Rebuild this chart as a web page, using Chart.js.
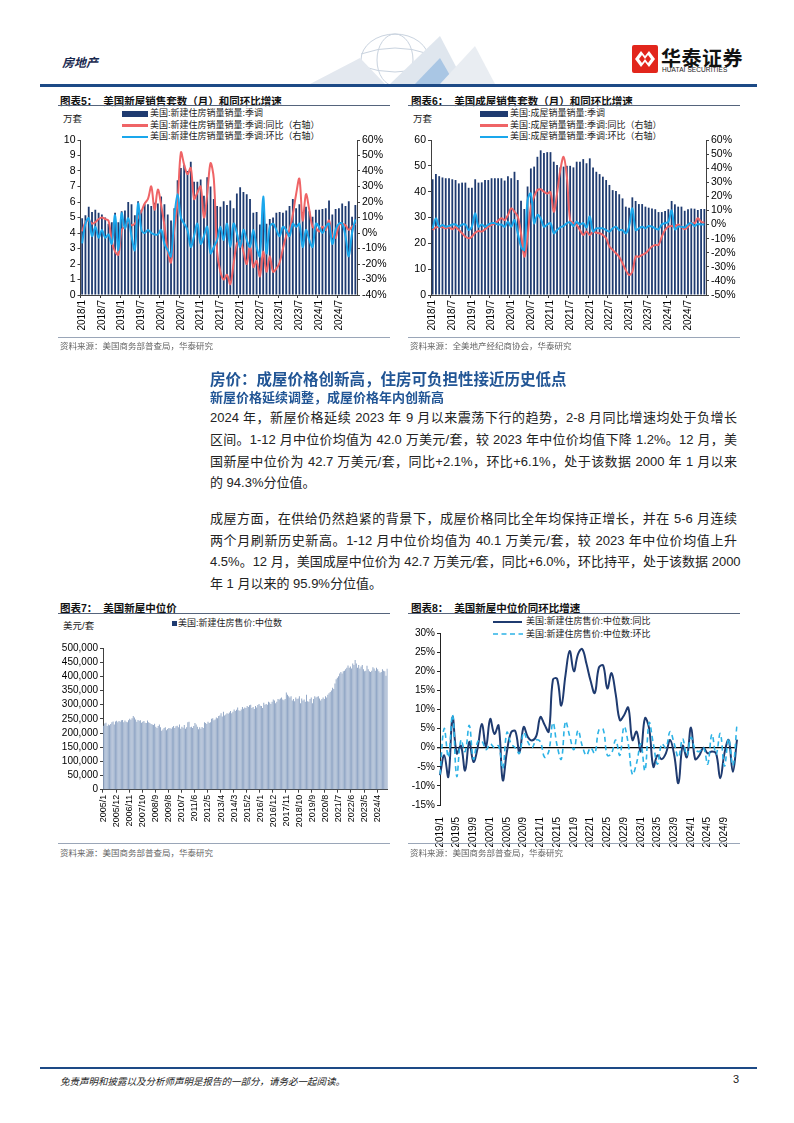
<!DOCTYPE html>
<html><head><meta charset="utf-8">
<script src="https://cdn.jsdelivr.net/npm/chart.js@4"></script>
<style>
body{margin:0;background:#fff;}
#page{position:relative;width:794px;height:1123px;overflow:hidden;font-family:"Liberation Sans","Noto Sans CJK SC",sans-serif;color:#222;}
.abs{position:absolute;}
.title{font-size:10.5px;font-weight:bold;color:#111;white-space:nowrap;}
.rule{height:1px;background:#55647c;}
.src{font-size:8.5px;color:#666;white-space:nowrap;}
.unit{font-size:9.5px;color:#222;white-space:nowrap;}
.leg{font-size:9px;color:#222;white-space:nowrap;line-height:11px;}
.sw{position:absolute;}
.line{position:absolute;left:210px;width:527px;font-size:13px;line-height:21.7px;height:21.7px;white-space:nowrap;}
.j{text-align:justify;text-align-last:justify;}
.box{position:absolute;}
</style></head>
<body><div id="page">

<!-- header -->
<svg class="abs" style="left:290px;top:28px" width="210" height="56">
  <g fill="none" stroke="#c9d3df" stroke-width="1">
    <ellipse cx="105" cy="32" rx="34" ry="26"/>
    <ellipse cx="105" cy="32" rx="18" ry="26"/>
    <path d="M71 26 Q105 14 139 26 M71 38 Q105 50 139 38"/>
  </g>
  <polygon points="20,56 70,30 95,56" fill="#e3e8ef"/>
  <polygon points="100,56 150,8 175,56" fill="#dfe6ee"/>
  <polygon points="125,56 150,30 165,56" fill="#a9c6e4"/>
  <polygon points="150,56 185,18 205,56" fill="#e9edf2"/>
</svg>
<div class="abs" style="left:62px;top:53px;font-size:12px;font-weight:bold;font-style:italic;color:#1a2a50;">房地产</div>
<svg class="abs" style="left:632px;top:45px" width="26" height="28" viewBox="0 0 26 28">
  <rect x="0" y="0" width="26" height="28" rx="2" fill="#e2261c"/>
  <path d="M3 14 L9 6 L13 11 L17 6 L23 14 L17 22 L13 17 L9 22 Z" fill="#fff"/>
  <path d="M7 14 L10 10 L13 14 L16 10 L19 14 L16 18 L13 14 L10 18 Z" fill="#e2261c"/>
</svg>
<div class="abs" style="left:661px;top:43px;font-size:20px;font-weight:bold;color:#111;letter-spacing:0.5px;white-space:nowrap;">华泰证券</div>
<div class="abs" style="left:662px;top:66px;font-size:6.5px;color:#222;white-space:nowrap;letter-spacing:0.1px;">HUATAI SECURITIES</div>
<div class="abs" style="left:40px;top:84px;width:717px;height:2.5px;background:#1d4a86;"></div>

<!-- chart 5 -->
<div class="abs title" style="left:60px;top:93px;">图表5：&nbsp;&nbsp;美国新屋销售套数（月）和同环比增速</div>
<div class="abs rule" style="left:58px;top:105px;width:332px;"></div>
<div class="abs unit" style="left:63px;top:111px;">万套</div>
<div class="abs sw" style="left:122px;top:111px;width:26px;height:6px;background:#1f3b70;"></div>
<div class="abs leg" style="left:150px;top:108px;">美国:新建住房销量销量:季调</div>
<div class="abs sw" style="left:122px;top:124px;width:26px;height:2.5px;background:#ef6466;"></div>
<div class="abs leg" style="left:150px;top:119.5px;">美国:新建住房销量销量:季调:同比（右轴）</div>
<div class="abs sw" style="left:122px;top:135.5px;width:26px;height:2.5px;background:#1aa7ec;"></div>
<div class="abs leg" style="left:150px;top:131px;">美国:新建住房销量销量:季调:环比（右轴）</div>
<div class="box" style="left:40px;top:108px;width:360px;height:232px;"><canvas id="c5"></canvas></div>
<div class="abs rule" style="left:58px;top:337px;width:332px;background:#9aa6b8;"></div>
<div class="abs src" style="left:60px;top:339px;">资料来源：美国商务部普查局，华泰研究</div>

<!-- chart 6 -->
<div class="abs title" style="left:411px;top:93px;">图表6：&nbsp;&nbsp;美国成屋销售套数（月）和同环比增速</div>
<div class="abs rule" style="left:408px;top:105px;width:332px;"></div>
<div class="abs unit" style="left:413px;top:111px;">万套</div>
<div class="abs sw" style="left:480px;top:111px;width:28px;height:6px;background:#1f3b70;"></div>
<div class="abs leg" style="left:510px;top:108px;">美国:成屋销量销量:季调</div>
<div class="abs sw" style="left:480px;top:124px;width:28px;height:2.5px;background:#ef6466;"></div>
<div class="abs leg" style="left:510px;top:119.5px;">美国:成屋销量销量:季调:同比（右轴）</div>
<div class="abs sw" style="left:480px;top:135.5px;width:28px;height:2.5px;background:#1aa7ec;"></div>
<div class="abs leg" style="left:510px;top:131px;">美国:成屋销量销量:季调:环比（右轴）</div>
<div class="box" style="left:400px;top:108px;width:360px;height:232px;"><canvas id="c6"></canvas></div>
<div class="abs rule" style="left:408px;top:337px;width:332px;background:#9aa6b8;"></div>
<div class="abs src" style="left:410px;top:339px;">资料来源：全美地产经纪商协会，华泰研究</div>

<!-- text -->
<div class="abs" style="left:210px;top:367px;font-size:15.5px;font-weight:bold;color:#215595;white-space:nowrap;">房价：成屋价格创新高，住房可负担性接近历史低点</div>
<div class="abs" style="left:210px;top:387px;font-size:13px;font-weight:bold;color:#215595;white-space:nowrap;">新屋价格延续调整，成屋价格年内创新高</div>
<div class="line j" style="top:407px;">2024 年，新屋价格延续 2023 年 9 月以来震荡下行的趋势，2-8 月同比增速均处于负增长</div>
<div class="line j" style="top:429px;">区间。1-12 月中位价均值为 42.0 万美元/套，较 2023 年中位价均值下降 1.2%。12 月，美</div>
<div class="line j" style="top:451px;">国新屋中位价为 42.7 万美元/套，同比+2.1%，环比+6.1%，处于该数据 2000 年 1 月以来</div>
<div class="line" style="top:472px;">的 94.3%分位值。</div>
<div class="line j" style="top:508px;">成屋方面，在供给仍然趋紧的背景下，成屋价格同比全年均保持正增长，并在 5-6 月连续</div>
<div class="line j" style="top:530px;">两个月刷新历史新高。1-12 月中位价均值为 40.1 万美元/套，较 2023 年中位价均值上升</div>
<div class="line j" style="top:551px;">4.5%。12 月，美国成屋中位价为 42.7 万美元/套，同比+6.0%，环比持平，处于该数据 2000</div>
<div class="line" style="top:573px;">年 1 月以来的 95.9%分位值。</div>

<!-- chart 7 -->
<div class="abs title" style="left:60px;top:600px;">图表7：&nbsp;&nbsp;美国新屋中位价</div>
<div class="abs rule" style="left:58px;top:613px;width:332px;"></div>
<div class="abs unit" style="left:63px;top:618px;">美元/套</div>
<div class="abs sw" style="left:172px;top:621px;width:5px;height:5px;background:#1f3b70;"></div>
<div class="abs leg" style="left:178px;top:618px;">美国:新建住房售价:中位数</div>
<div class="box" style="left:40px;top:640px;width:360px;height:200px;"><canvas id="c7"></canvas></div>
<div class="abs rule" style="left:58px;top:843px;width:332px;background:#9aa6b8;"></div>
<div class="abs src" style="left:60px;top:846px;">资料来源：美国商务部普查局，华泰研究</div>

<!-- chart 8 -->
<div class="abs title" style="left:411px;top:600px;">图表8：&nbsp;&nbsp;美国新屋中位价同环比增速</div>
<div class="abs rule" style="left:408px;top:613px;width:332px;"></div>
<div class="abs sw" style="left:493px;top:620.5px;width:29px;height:2px;background:#1f3b70;"></div>
<div class="abs leg" style="left:526px;top:616px;">美国:新建住房售价:中位数:同比</div>
<svg class="abs" style="left:493px;top:632px" width="30" height="4"><line x1="0" y1="2" x2="30" y2="2" stroke="#2db3e6" stroke-width="1.6" stroke-dasharray="5,3.5"/></svg>
<div class="abs leg" style="left:526px;top:628.5px;">美国:新建住房售价:中位数:环比</div>
<div class="box" style="left:400px;top:625px;width:360px;height:222px;"><canvas id="c8"></canvas></div>
<div class="abs rule" style="left:408px;top:843px;width:332px;background:#9aa6b8;"></div>
<div class="abs src" style="left:410px;top:846px;">资料来源：美国商务部普查局，华泰研究</div>

<!-- footer -->
<div class="abs" style="left:40px;top:1067px;width:717px;height:2px;background:#1d4a86;"></div>
<div class="abs" style="left:60px;top:1074px;font-size:9.5px;font-style:italic;color:#222;white-space:nowrap;">免责声明和披露以及分析师声明是报告的一部分，请务必一起阅读。</div>
<div class="abs" style="left:733px;top:1073px;font-size:11px;color:#222;">3</div>

</div>
<script>
// ---------- data ----------
const newSalesMonths = monthLabels(2018, 1, 84);
const newSalesUnits = [
4.95,5.15,5.7,5.35,5.5,5.3,5.2,5.0,4.6,4.7,5.3,4.7,
5.4,5.45,6.0,5.85,5.15,6.05,5.5,5.85,5.85,5.75,5.95,5.9,
6.35,5.85,5.2,4.8,5.6,7.4,8.2,8.4,8.0,8.6,7.3,7.3,
7.45,6.4,7.6,7.0,6.2,5.75,5.7,6.05,5.8,6.1,5.6,6.55,
6.95,6.65,6.5,6.2,5.3,5.35,4.55,5.6,4.6,4.9,5.0,5.3,
5.35,5.3,5.45,5.75,6.2,5.6,5.85,5.35,5.7,5.4,5.05,5.5,
5.5,5.55,5.6,6.1,5.2,5.55,5.6,5.9,5.75,6.05,5.05,5.8];
const newSalesYoY = [
1,7,8,6,7,9,10,9,8,-5,-12,-14,
2,4,7,5,6,10,14,19,22,30,15,28,
18,5,-12,-19,2,20,52,44,38,42,22,26,
30,10,25,45,35,-12,-25,-30,-27,-33,-20,-7,
-5,-12,-20,-8,-22,-18,-28,-12,-25,-15,-25,-23,
-19,-10,-2,2,12,25,35,8,25,15,4,3,
1,4,2,8,-2,-3,5,6,5,2,4,6];
const newSalesMoM = [
-6.7,6,9.5,-2,4,-3,2,-3,-1,-7,11.5,-11,
12.7,3,9.5,-2,-11,19,2,0,2,0,-1,-1,
2,-7,-11,-15,10,25,10,6,2,-9,-2,6,
-7,-2,4,-13,-9,-4.5,4,-4.5,6,-9,6,0,
-9,2,-4.5,-9,2,-9,-15,23.5,-13,4,6,2,
-2,4,2,-2,6,4,6,-9,2,-4.5,-9,6,
4,0,4,6,-7,2,6,6,-2,-15,0,8.7];

const existSalesMonths = monthLabels(2018, 1, 84);
const existSalesUnits = [
44.8,46.8,46,45.5,45.2,45.2,44.8,44.5,43.2,43.5,43.5,41.5,
41.5,44.8,43.5,43.6,44.5,44.5,45.2,45.2,45.2,45.2,44.3,46,
45.2,47.7,44.5,36.5,33.3,42,49,49.7,53.5,56,55,55.3,
55.3,51.6,50.3,49.4,49.7,50,50,49.4,51.6,51.6,52.6,51,
52.9,49.4,47.7,46.8,45.8,44.5,42.6,40.6,40.3,39,37.4,34.2,
33.8,37.8,36.4,35.2,35.2,34.2,33.8,33.5,33.2,32.1,32.1,32.5,
33.2,36.4,35.1,34.2,34.2,32.6,33.2,33.5,33.4,32.9,33.3,33.3];
const existSalesYoY = [
-3.9,-2,-1.5,-2,-2.7,-2,-3.4,-2,-3.9,-6.2,-8.6,-9.8,
-8.6,-5.8,-4.6,-5,-3.4,-1.5,-0.3,0.8,2.7,4.4,3.2,6.8,
11.5,9.1,5.6,-6.2,-22.8,-8.6,12.7,19.8,24.5,25,23.3,22,
23,9,22,38.6,48,34,3,1,-0.3,-3.9,-7.4,-5,
-7.4,-5,-5.8,-6.2,-7.4,-9.8,-15.6,-18,-20.4,-22.8,-27.5,-32.3,
-35.8,-33.5,-22.8,-22.8,-21.6,-20.4,-18,-15.6,-14.5,-14.5,-8.6,-3.9,
-1.5,-1,-1.5,0,-1.5,-3.4,-1.5,1,1,4.4,2,1.3];
const existSalesMoM = [
-2.7,4.4,-1.5,-0.3,-1.5,-1,0,0,-1.5,0,0,-3.9,
-1.5,8,-1.5,0,-1.5,0,1,1,0,0,-1.5,2,
-1.5,3.2,-6.2,-15.6,-18,17.4,22,1,6.8,4.4,-1.5,0,
1,-6.2,-3.9,-2,-1,1,1.5,-1,2,0,1,-2,
5.6,-5,-2.7,-2.7,-2.7,-3.9,-5,-2.7,-1.5,-3.9,-3.9,-6.2,
-1.5,11.5,-3.9,-2.7,-1.5,-2.7,-1,-1.5,-2.7,-3.4,0,1,
2,10,-3.4,-1.5,-1.5,-2,0,1,-1,0.4,0,0];

const priceMonths = monthLabels(2005, 1, 240);
const medianPrice = [
226000,234000,236000,225000,230000,227000,232000,238000,241000,230000,241000,243000,
238000,242000,240000,245000,246000,238000,244000,240000,238000,245000,250000,247000,
252000,260000,255000,248000,240000,246000,243000,245000,236000,240000,242000,236000,
235000,244000,238000,235000,232000,230000,228000,233000,222000,218000,225000,230000,
220000,208000,212000,218000,220000,210000,214000,218000,217000,215000,220000,225000,
218000,224000,226000,220000,230000,215000,222000,219000,228000,215000,220000,238000,
240000,220000,222000,218000,225000,235000,230000,222000,213000,220000,215000,221000,
218000,238000,235000,232000,240000,235000,238000,250000,252000,245000,248000,255000,
252000,260000,262000,270000,258000,275000,262000,265000,270000,268000,272000,278000,
270000,275000,283000,278000,282000,290000,280000,278000,283000,292000,286000,290000,
288000,295000,292000,298000,300000,288000,292000,285000,295000,290000,299000,302000,
296000,295000,288000,307000,300000,302000,300000,310000,308000,302000,310000,318000,
315000,305000,310000,320000,318000,322000,325000,318000,316000,320000,343000,335000,
330000,325000,330000,315000,320000,312000,325000,320000,322000,330000,305000,322000,
315000,318000,310000,335000,312000,310000,320000,325000,305000,320000,330000,325000,
328000,330000,322000,315000,320000,325000,320000,330000,325000,335000,340000,345000,
350000,360000,355000,375000,390000,395000,400000,410000,415000,410000,418000,420000,
425000,430000,438000,430000,435000,428000,445000,440000,458000,445000,430000,440000,
428000,435000,440000,425000,418000,420000,437000,425000,418000,415000,420000,432000,
428000,420000,430000,425000,418000,413000,415000,425000,420000,418000,402000,427000];

const growthMonths = monthLabels(2019, 1, 72);
const priceYoY = [
-7.2,-2,-7.6,8,-1.5,0.5,-6,1.5,-3.7,0,6.2,0.3,
7.5,3.6,5.8,-8.5,-1,4,4.3,-1.2,5.4,2.8,1.9,3,
8,6,4.2,17.8,18,11,19,25.3,20,24.5,25.8,22,
17.5,14.3,21,21.5,15.5,19.5,14,7.2,8.5,10.5,2,4.2,
-1,7.7,5,-5,-2,-3,-1.5,2,-2,-9.3,0.5,-2.5,
5.3,-3,-2,0,-1.5,-1,-1.5,-8,-1.5,2,-6.3,2.1];
const priceMoM = [
-7,5,-2.5,8.6,-7.5,2,-1,5.8,-3,1.5,1.7,-0.5,
1,0,0.5,-5.5,4,1,0,-1.5,4,1.5,0,2,
1.5,-2.5,-1,6.5,0.5,-3,6.8,3,-0.5,4.5,0.5,-2,
0,-1.5,4.7,4.8,-2,-1.5,2,-2,5.5,1,-7,-4,
1,-6,6.5,1,-4.3,1,0,4.2,1,-2.5,2.3,-2,
2.7,-0.5,-1,0,-4.3,3.5,-1.7,3.7,-4.8,2.4,-4.7,6.1];

function monthLabels(y, m, n){
  const out=[];
  for(let i=0;i<n;i++){ out.push(y+'/'+m); m++; if(m>12){m=1;y++;} }
  return out;
}

// ---------- charts ----------
Chart.defaults.font.family = '"Liberation Sans", Arial, sans-serif';
Chart.defaults.color = '#000';
Chart.defaults.animation = false;

const AX = '#404040';
const NAVY = '#1f3b70', RED = '#ef6466', CYAN = '#1aa7ec';

function xAxis(labels, every, h, fs){
  return {
    type:'category',
    grid:{display:true, drawOnChartArea:false, drawTicks:true, tickLength:3,
      color:(c)=> (c.index % every === 0) ? AX : 'rgba(0,0,0,0)'},
    border:{display:true, color:AX},
    ticks:{autoSkip:false, maxRotation:90, minRotation:90, padding:2, font:{size:fs}, color:'#000',
      callback:(v,i)=> (i % every === 0) ? labels[i] : ''},
    afterFit:(s)=>{ s.height = h; }
  };
}
function yAxis(pos, min, max, step, w, fmt, fs){
  return {
    position:pos, min:min, max:max,
    grid:{display:true, drawOnChartArea:false, drawTicks:true, tickLength:3, color:AX},
    border:{display:true, color:AX},
    ticks:{stepSize:step, autoSkip:false, padding:2, font:{size:fs}, color:'#000', callback:fmt},
    afterFit:(s)=>{ s.width = w; }
  };
}
const pct = v => v + '%';
const plain = v => String(v);

function comboChart(id, labels, bars, yoy, mom, yl, yr, wl, wr){
  new Chart(document.getElementById(id), {
    type:'bar',
    data:{labels:labels, datasets:[
      {type:'line', data:mom, yAxisID:'yR', borderColor:CYAN, borderWidth:2, pointRadius:0, tension:0.35, order:0},
      {type:'line', data:yoy, yAxisID:'yR', borderColor:RED, borderWidth:2, pointRadius:0, tension:0.35, order:1},
      {type:'bar', data:bars, yAxisID:'y', backgroundColor:NAVY, barPercentage:0.55, categoryPercentage:1, order:2}
    ]},
    options:{
      responsive:true, maintainAspectRatio:false,
      layout:{padding:{top:32, left:0, right:0, bottom:0}},
      plugins:{legend:{display:false}, tooltip:{enabled:false}},
      scales:{
        x: xAxis(labels, 6, 45, 10),
        y: yAxis('left', yl[0], yl[1], yl[2], wl, plain, 10.5),
        yR: yAxis('right', yr[0], yr[1], yr[2], wr, pct, 10.5)
      }
    }
  });
}
comboChart('c5', newSalesMonths, newSalesUnits, newSalesYoY, newSalesMoM, [0,10,1], [-40,60,10], 40.5, 43);
comboChart('c6', existSalesMonths, existSalesUnits, existSalesYoY, existSalesMoM, [0,60,10], [-50,60,10], 31, 54);

new Chart(document.getElementById('c7'), {
  type:'bar',
  data:{labels:priceMonths, datasets:[
    {data:medianPrice, backgroundColor:'#8ea4c4', barPercentage:0.8, categoryPercentage:1}
  ]},
  options:{
    responsive:true, maintainAspectRatio:false,
    layout:{padding:{top:7.7, left:0, right:12, bottom:0}},
    plugins:{legend:{display:false}, tooltip:{enabled:false}},
    scales:{
      x: xAxis(priceMonths, 11, 50.3, 9),
      y: yAxis('left', 0, 500000, 50000, 63, v => v.toLocaleString('en-US'), 10)
    }
  }
});

new Chart(document.getElementById('c8'), {
  type:'line',
  data:{labels:growthMonths, datasets:[
    {data:priceYoY, borderColor:'#1f3b70', borderWidth:2, pointRadius:0, tension:0.4, order:1},
    {data:priceMoM, borderColor:'#2db3e6', borderWidth:1.6, borderDash:[5,3.5], pointRadius:0, tension:0.4, order:0}
  ]},
  options:{
    responsive:true, maintainAspectRatio:false,
    layout:{padding:{top:6.7, left:0, right:23, bottom:0}},
    plugins:{legend:{display:false}, tooltip:{enabled:false}},
    scales:{
      x:{
        offset:false,
        grid:{display:false},
        border:{display:false},
        ticks:{autoSkip:false, maxRotation:90, minRotation:90, padding:4, font:{size:10}, color:'#000',
          callback:(v,i)=> (i % 4 === 0) ? growthMonths[i] : ''},
        afterFit:(s)=>{ s.height = 42; }
      },
      y:{
        min:-15, max:30,
        grid:{display:true, drawOnChartArea:true, drawTicks:true, tickLength:3,
          color:(c)=> (c.tick && c.tick.value === 0) ? '#000' : 'rgba(0,0,0,0)',
          lineWidth:(c)=> (c.tick && c.tick.value === 0) ? 1.3 : 1,
          tickColor:'#222'},
        border:{display:true, color:'#222'},
        ticks:{stepSize:5, autoSkip:false, padding:2, font:{size:10}, color:'#000', callback:pct},
        afterFit:(s)=>{ s.width = 40; }
      }
    }
  }
});
</script>
</body></html>
